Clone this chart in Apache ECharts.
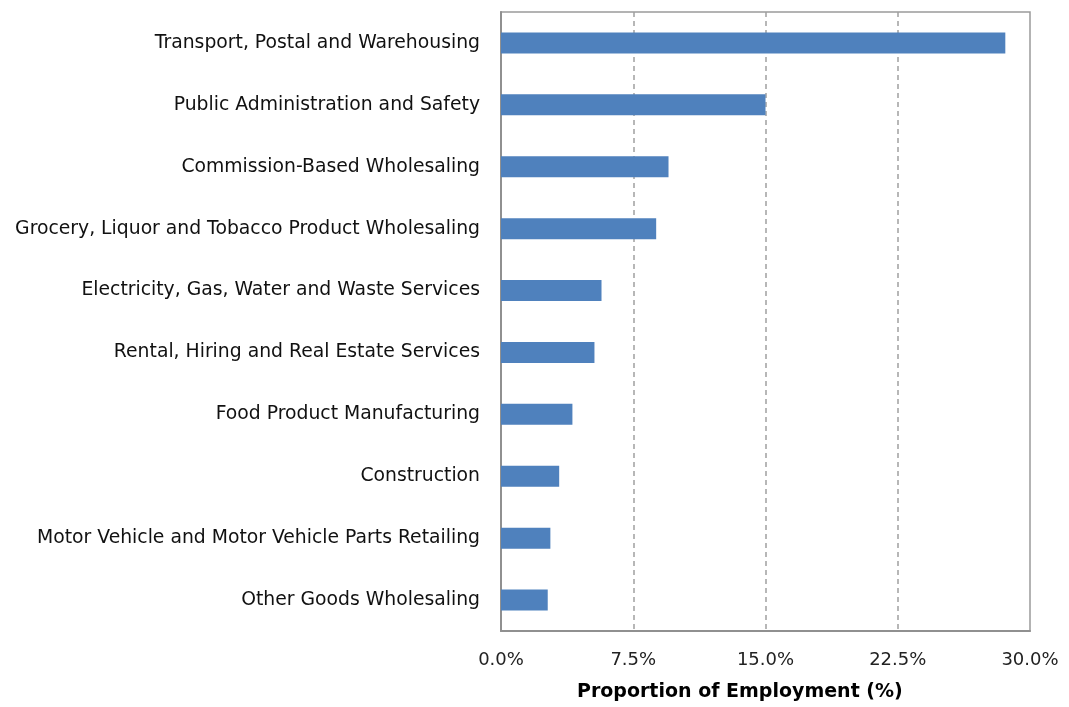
<!DOCTYPE html>
<html>
<head>
<meta charset="utf-8">
<script src="https://cdn.jsdelivr.net/npm/echarts@6/dist/echarts.min.js"></script>
<style>html,body{margin:0;padding:0;background:#fff}#c{width:1069px;height:707px}</style>
</head>
<body>
<div id="c"></div>
<script>
const categories = [
  "Transport, Postal and Warehousing",
  "Public Administration and Safety",
  "Commission-Based Wholesaling",
  "Grocery, Liquor and Tobacco Product Wholesaling",
  "Electricity, Gas, Water and Waste Services",
  "Rental, Hiring and Real Estate Services",
  "Food Product Manufacturing",
  "Construction",
  "Motor Vehicle and Motor Vehicle Parts Retailing",
  "Other Goods Wholesaling"
];
const values = [28.6, 15.0, 9.5, 8.8, 5.7, 5.3, 4.05, 3.3, 2.8, 2.65];
const axisTitle = "Proportion of Employment (%)";

const chart = echarts.init(document.getElementById('c'));
chart.setOption({
  animation: false,
  textStyle: { fontFamily: "DejaVu Sans" },
  grid: { left: 501, right: 39, top: 12, bottom: 76, show: true, borderColor: '#9a9a9a', borderWidth: 1.5 },
  xAxis: {
    type: 'value', min: 0, max: 30, interval: 7.5,
    axisLine: { show: true, lineStyle: { color: '#909090', width: 2 } },
    axisTick: { show: false },
    axisLabel: { formatter: v => v.toFixed(1) + '%', color: '#222', fontSize: 18, margin: 20, fontFamily: "DejaVu Sans" },
    splitLine: { show: true, showMinLine: false, showMaxLine: false, lineStyle: { type: [5, 4], color: '#a0a0a0', width: 1.5 } }
  },
  yAxis: {
    type: 'category', data: categories, inverse: true,
    axisLine: { show: true, lineStyle: { color: '#909090', width: 2 } },
    axisTick: { show: false },
    axisLabel: { color: '#111', fontSize: 18.8, margin: 21, fontFamily: "DejaVu Sans" },
    splitLine: { show: false }
  },
  series: [{
    type: 'bar', data: values, barWidth: 21,
    itemStyle: { color: '#4F81BD' }
  }],
  graphic: [{
    type: 'text', left: 577, top: 683,
    style: { text: axisTitle, font: 'bold 19px "DejaVu Sans"', fill: '#000' }
  }]
});
</script>
</body>
</html>
